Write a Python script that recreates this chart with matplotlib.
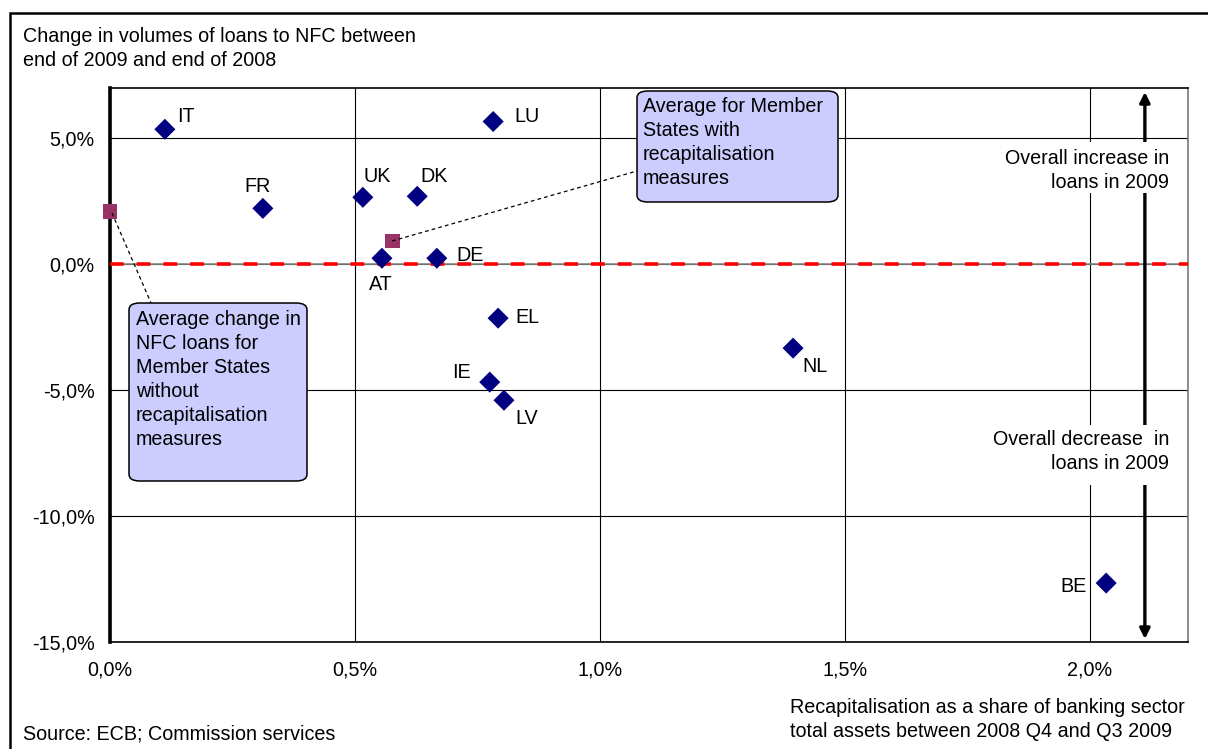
import matplotlib
matplotlib.use("Agg")
import matplotlib.pyplot as plt
from matplotlib.patches import Rectangle, FancyBboxPatch
from matplotlib.ticker import FuncFormatter

plt.rcParams['font.family'] = ['Liberation Sans', 'DejaVu Sans']

countries = ["IT", "LU", "FR", "UK", "DK", "AT", "DE", "EL", "IE", "LV", "NL", "BE"]
recap = [0.112, 0.782, 0.312, 0.516, 0.627, 0.555, 0.667, 0.792, 0.775, 0.804, 1.394, 2.033]
loan_change = [5.36, 5.67, 2.22, 2.66, 2.70, 0.24, 0.24, -2.14, -4.68, -5.40, -3.33, -12.66]

avg_recap = [0.576]
avg_recap_change = [0.93]
avg_norecap = [0.0]
avg_norecap_change = [2.10]

x_ticks = [0.0, 0.5, 1.0, 1.5, 2.0]
y_ticks = [-15, -10, -5, 0, 5]

FS = 14.2
LINE = 24  # px between baselines
W, H = 1208, 749
fig = plt.figure(figsize=(W / 100, H / 100), dpi=100)

def fx(px):
    return px / W

def fy(py):
    return 1 - py / H

PT = 0.72  # points per pixel at 100 dpi

def lines_text(x_px, first_baseline_px, lines, ha='left', zorder=9):
    for i, ln in enumerate(lines):
        fig.text(fx(x_px), fy(first_baseline_px + i * LINE), ln, ha=ha, va='baseline',
                 fontsize=FS, zorder=zorder)

# outer frame
fig.add_artist(Rectangle((fx(10), fy(760)), fx(1230) - fx(10), fy(13) - fy(760),
                         transform=fig.transFigure, fill=False, edgecolor='black',
                         linewidth=1.8, clip_on=False))

ax = fig.add_axes([fx(110), fy(642), fx(1188) - fx(110), fy(88) - fy(642)])
ax.set_xlim(0, 2.2)
ax.set_ylim(-15, 7)

ax.set_xticks(x_ticks)
ax.set_yticks(y_ticks)
ax.xaxis.set_major_formatter(FuncFormatter(lambda v, p: f"{v:.1f}%".replace('.', ',')))
ax.yaxis.set_major_formatter(FuncFormatter(lambda v, p: f"{v:.1f}%".replace('.', ',')))
ax.tick_params(length=0, labelsize=FS, colors='black')
ax.tick_params(axis='y', pad=11)
ax.tick_params(axis='x', pad=13)
ax.grid(True, color='black', linewidth=0.8)
ax.set_axisbelow(True)

for s in ['top', 'bottom']:
    ax.spines[s].set_color('black')
    ax.spines[s].set_linewidth(1.2)
ax.spines['right'].set_color('#777777')
ax.spines['right'].set_linewidth(1.2)
ax.spines['left'].set_color('black')
ax.spines['left'].set_linewidth(2.6)

# zero line
ax.axhline(0, color='#888888', linewidth=1.2, zorder=2)
ax.plot([0, 2.2], [0, 0], color='#ff0000', linewidth=2.6, zorder=3,
        dashes=(3.8, 3.6))

# double arrow
arrow_x = 2.112
ax.annotate('', xy=(arrow_x, 6.84), xytext=(arrow_x, -14.88),
            arrowprops=dict(arrowstyle='<|-|>', color='black', lw=2.4,
                            mutation_scale=15, shrinkA=0, shrinkB=0), zorder=4)

# white masks behind arrow texts (hide arrow and grid line)
for y0, y1 in [(142, 193), (425, 485)]:
    fig.add_artist(Rectangle((fx(990), fy(y1)), fx(1175) - fx(990), fy(y0) - fy(y1),
                             transform=fig.transFigure, facecolor='white',
                             edgecolor='none', zorder=5))
lines_text(1169, 164, ["Overall increase in", "loans in 2009"], ha='right', zorder=6)
lines_text(1169, 445, ["Overall decrease  in", "loans in 2009"], ha='right', zorder=6)

# data points
ax.scatter(recap, loan_change, marker='D', s=115, color='#000080', zorder=6,
           edgecolors='none', clip_on=False)
ax.scatter(avg_recap, avg_recap_change, marker='s', s=110, color='#993366',
           zorder=6, edgecolors='none', clip_on=False)
ax.scatter(avg_norecap, avg_norecap_change, marker='s', s=110, color='#993366',
           zorder=6, edgecolors='none', clip_on=False)

# label offsets in pixels (dx right, dy down to the text baseline centre)
offsets_px = {
    "IT": (21, -7),
    "LU": (34, 1),
    "FR": (-5, -16),
    "UK": (14, -15),
    "DK": (17, -14),
    "AT": (-1, 32),
    "DE": (33, 3),
    "EL": (29, 5),
    "IE": (-28, -4),
    "LV": (23, 24),
    "NL": (22, 24),
    "BE": (-33, 9),
}
for c, x, y in zip(countries, recap, loan_change):
    dx, dy = offsets_px[c]
    ax.annotate(c, (x, y), xytext=(dx * PT, -dy * PT), textcoords='offset points',
                ha='center', va='baseline', fontsize=FS, zorder=7)

# callout boxes
def callout(x0, y0, x1, y1, lines, tx, ty):
    bx = FancyBboxPatch((fx(x0), fy(y1)), fx(x1) - fx(x0), fy(y0) - fy(y1),
                        boxstyle="round,pad=0,rounding_size=0.009",
                        transform=fig.transFigure, facecolor='#ccccff',
                        edgecolor='black', linewidth=1.1, zorder=8)
    fig.add_artist(bx)
    lines_text(tx, ty, lines, zorder=9)

callout(637, 91, 838, 202, ["Average for Member", "States with", "recapitalisation", "measures"], 643, 112)
callout(129, 303, 307, 481, ["Average change in", "NFC loans for", "Member States", "without",
                             "recapitalisation", "measures"], 136, 325)

# dashed connectors
fig.add_artist(plt.Line2D([fx(392), fx(637)], [fy(241), fy(171)], transform=fig.transFigure,
                          color='black', linewidth=0.9, dashes=(3, 2.5), zorder=7))
fig.add_artist(plt.Line2D([fx(112), fx(151)], [fy(213), fy(303)], transform=fig.transFigure,
                          color='black', linewidth=0.9, dashes=(3, 2.5), zorder=7))

# texts
lines_text(23, 42, ["Change in volumes of loans to NFC between", "end of 2009 and end of 2008"])
lines_text(790, 713, ["Recapitalisation as a share of banking sector", "total assets between 2008 Q4 and Q3 2009"])
lines_text(23, 739, ["Source: ECB; Commission services"])

fig.savefig("out.png", dpi=100)
